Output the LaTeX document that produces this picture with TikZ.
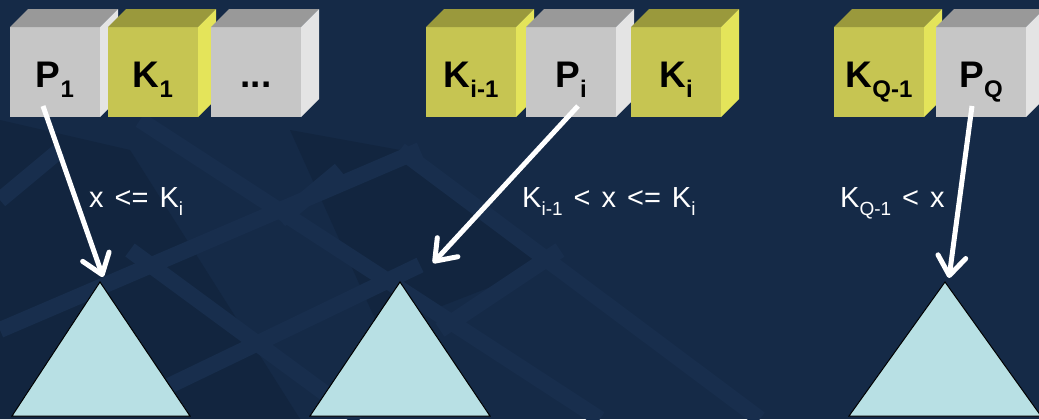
\documentclass[tikz,border=0pt]{standalone}
\usepackage{fontspec}
\setmainfont{Liberation Sans}
\usetikzlibrary{arrows.meta,calc}
\definecolor{bg}{RGB}{21,42,71}
\definecolor{bgdark}{RGB}{18,37,63}
\definecolor{bgband}{RGB}{24,46,77}
\definecolor{gfront}{RGB}{198,198,198}
\definecolor{gtop}{RGB}{153,153,153}
\definecolor{gside}{RGB}{228,228,228}
\definecolor{yfront}{RGB}{198,197,82}
\definecolor{ytop}{RGB}{154,153,60}
\definecolor{yside}{RGB}{228,228,90}
\definecolor{tri}{RGB}{184,224,228}
\newcommand\cubesub[1]{\raisebox{-10bp}{\fontsize{24bp}{24bp}\selectfont #1}}
\newcommand\lblsub[1]{\raisebox{-8bp}{\fontsize{19bp}{19bp}\selectfont #1}}
\newcommand\gap{\hspace{11bp}}
\newcommand\mycube[4]{%
  \node[cubefront, fill=#3front, anchor=north west] (#1) at (#2,27) {};
  \fill[#3top] (#1.north west) -- ++(18,-18) -- ++(90,0) -- (#1.north east) -- cycle;
  \fill[#3side] (#1.north east) -- ++(18,-18) -- ++(0,90) -- (#1.south east) -- cycle;
  \node[cubelabel, anchor=base] (#1-t) at ($(#1.north)+(0,60)$) {#4};
}
\begin{document}
\begin{tikzpicture}[x=1bp,y=-1bp,
  cubefront/.style={rectangle, minimum width=90bp, minimum height=90bp, inner sep=0pt, outer sep=0pt},
  cubelabel/.style={inner sep=0pt, font=\fontsize{37bp}{37bp}\selectfont\bfseries, text=black},
  lbl/.style={inner sep=0pt, font=\fontsize{29bp}{29bp}\selectfont, text=white},
  arr/.style={draw=white, line width=5bp, -{Straight Barb[length=19bp, width=28bp, line cap=round, line join=round]}},
  band/.style={draw=bgband, line width=16bp, line cap=butt},
  tree/.style={fill=tri, draw=black, line width=1bp, line join=miter}]
\fill[bg] (0,0) rectangle (1039,419);
\useasboundingbox (0,0) rectangle (1039,419);
% faint background pattern
\begin{scope}
  \clip (0,0) rectangle (1039,419);
  \fill[bgdark] (0,120) -- (130,150) -- (300,419) -- (0,419) -- cycle;
  \fill[bgdark] (290,130) -- (400,150) -- (560,260) -- (380,330) -- cycle;
  \draw[band] (140,120) -- (600,419);
  \draw[band] (0,330) -- (420,150);
  \draw[band] (130,250) -- (360,419);
  \draw[band] (150,395) -- (420,265);
  \draw[band] (400,150) -- (760,419);
  \draw[band] (440,330) -- (560,250);
  \draw[band] (0,200) -- (60,150);
  \draw[band] (280,220) -- (340,170);
\end{scope}
% cubes
\mycube{p1}{10}{g}{P\cubesub{1}}
\mycube{k1}{108}{y}{K\cubesub{1}}
\mycube{dots}{211}{g}{...}
\mycube{kim}{426}{y}{K\cubesub{i-1}}
\mycube{pi}{526}{g}{P\cubesub{i}}
\mycube{ki}{631}{y}{K\cubesub{i}}
\mycube{kq}{834}{y}{K\cubesub{Q-1}}
\mycube{pq}{936}{g}{P\cubesub{Q}}
% subtrees
\coordinate (t1) at (100,282); \coordinate (t1l) at (12,416); \coordinate (t1r) at (190,416);
\coordinate (t2) at (400,282); \coordinate (t2l) at (310,416); \coordinate (t2r) at (490,416);
\coordinate (t3) at (945,282); \coordinate (t3l) at (849,416); \coordinate (t3r) at (1041,416);
\draw[tree] (t1) -- (t1l) -- (t1r) -- cycle;
\draw[tree] (t2) -- (t2l) -- (t2r) -- cycle;
\draw[tree] (t3) -- (t3l) -- (t3r) -- cycle;
% pointers
\coordinate (s1) at (43,106); \coordinate (e1) at (103,277);
\coordinate (s2) at (578,106); \coordinate (e2) at (433,263);
\coordinate (s3) at (972,106); \coordinate (e3) at (949,278);
\draw[arr] (s1) -- (e1);
\draw[arr] (s2) -- (e2);
\draw[arr] (s3) -- (e3);
% conditions
\node[lbl, anchor=base west] (c1) at (89,207) {x\gap<=\gap K\lblsub{i}};
\node[lbl, anchor=base west] (c2) at (522,207) {K\lblsub{i-1}\gap<\gap x\gap<=\gap K\lblsub{i}};
\node[lbl, anchor=base west] (c3) at (840,207) {K\lblsub{Q-1}\gap<\gap x};
\end{tikzpicture}
\end{document}
